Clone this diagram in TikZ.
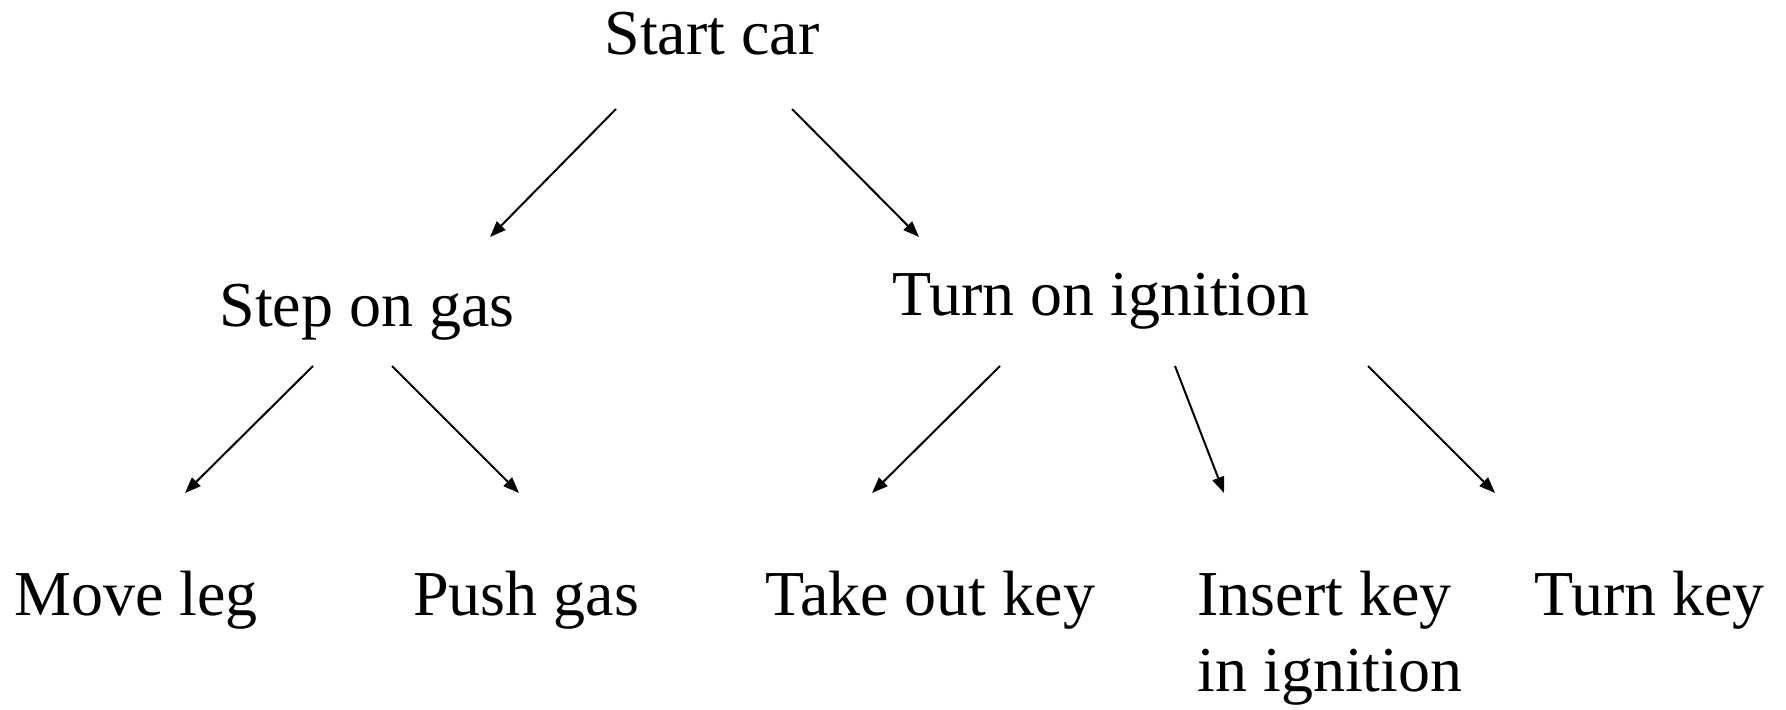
\documentclass[tikz,border=0pt]{standalone}
\usepackage{fontspec}
\setmainfont{Liberation Serif}
\usetikzlibrary{arrows.meta}
\begin{document}
\begin{tikzpicture}[x=0.5pt,y=-0.5pt,
  lbl/.style={inner sep=0pt,anchor=base,font=\fontsize{32pt}{36pt}\selectfont},
  lblw/.style={inner sep=0pt,anchor=base west,font=\fontsize{32pt}{36pt}\selectfont},
  conn/.style={line width=1pt,-{Triangle[length=8pt,width=6pt]}}]
\useasboundingbox (0,0) rectangle (1786,710);
\node[lbl] (start) at (712,55) {Start car};
\node[lbl] (gas) at (367,327) {Step on gas};
\node[lbl] (ign) at (1101,316) {Turn on ignition};
\node[lblw] (leg) at (14,615) {Move leg};
\node[lblw] (push) at (413,615) {Push gas};
\node[lblw] (take) at (765,615) {Take out key};
\node[lblw] (ins) at (1197,615) {Insert key};
\node[lblw] (ins2) at (1197,691) {in ignition};
\node[lblw] (turn) at (1534,615) {Turn key};
\coordinate (s1) at (616,109); \coordinate (e1) at (490,237);
\coordinate (s2) at (792,109); \coordinate (e2) at (919,237);
\coordinate (s3) at (313,366); \coordinate (e3) at (185,493);
\coordinate (s4) at (392,366); \coordinate (e4) at (519,493);
\coordinate (s5) at (1000,366); \coordinate (e5) at (872,493);
\coordinate (s6) at (1175,366); \coordinate (e6) at (1224,493);
\coordinate (s7) at (1368,366); \coordinate (e7) at (1495,493);
\draw[conn] (s1) -- (e1);
\draw[conn] (s2) -- (e2);
\draw[conn] (s3) -- (e3);
\draw[conn] (s4) -- (e4);
\draw[conn] (s5) -- (e5);
\draw[conn] (s6) -- (e6);
\draw[conn] (s7) -- (e7);
\end{tikzpicture}
\end{document}
